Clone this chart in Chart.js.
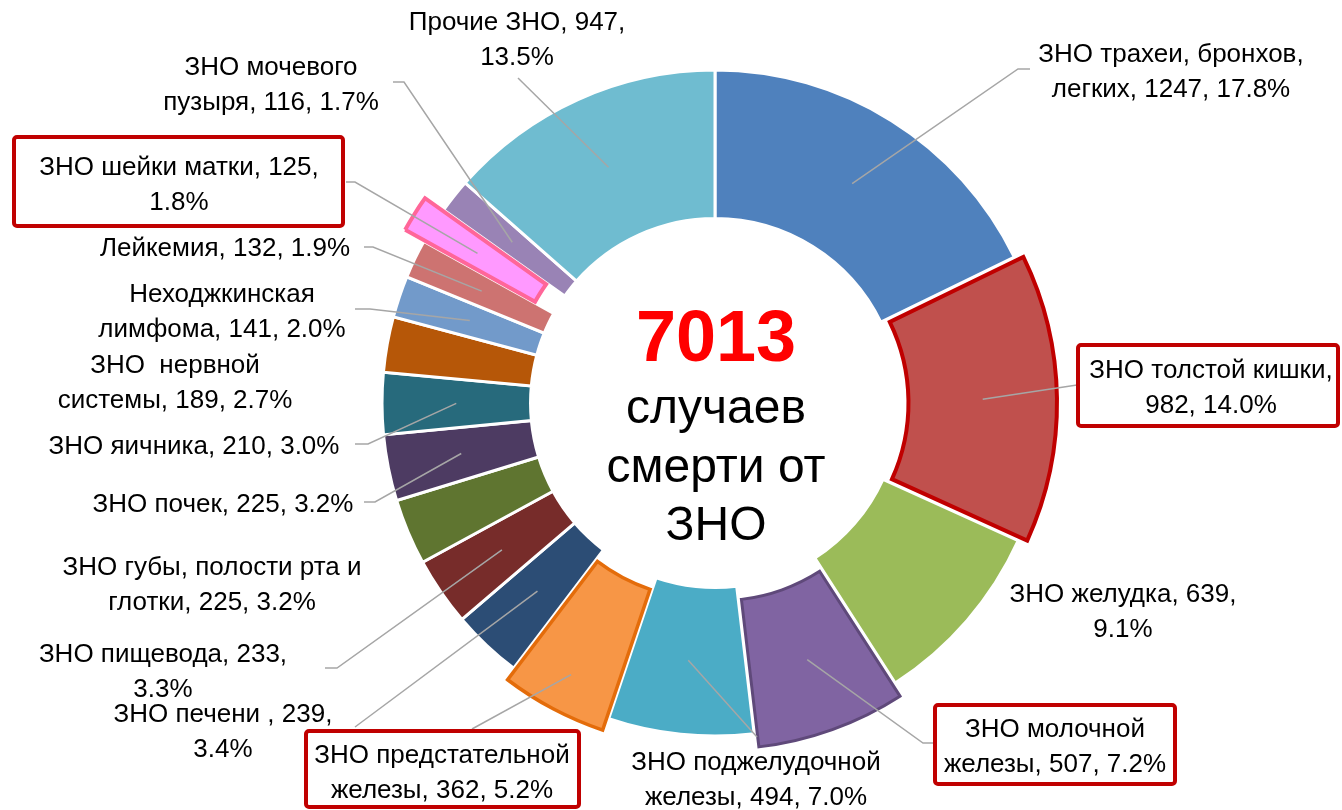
<!DOCTYPE html>
<html>
<head>
<meta charset="utf-8">
<script src="https://cdn.jsdelivr.net/npm/chart.js@4/dist/chart.umd.min.js"></script>
<style>
  html, body { margin: 0; padding: 0; background: #ffffff; }
  #wrap { width: 1342px; height: 810px; position: relative; }
</style>
</head>
<body>
<div id="wrap"><canvas id="c" width="1342" height="810"></canvas></div>
<script>
// ---------------- data ----------------
const categories = [
  'ЗНО трахеи, бронхов, легких',
  'ЗНО толстой кишки',
  'ЗНО желудка',
  'ЗНО молочной железы',
  'ЗНО поджелудочной железы',
  'ЗНО предстательной железы',
  'ЗНО печени ',
  'ЗНО пищевода',
  'ЗНО губы, полости рта и глотки',
  'ЗНО почек',
  'ЗНО яичника',
  'ЗНО  нервной системы',
  'Неходжкинская лимфома',
  'Лейкемия',
  'ЗНО шейки матки',
  'ЗНО мочевого пузыря',
  'Прочие ЗНО'
];
const values = [1247, 982, 639, 507, 494, 362, 239, 233, 225, 225, 210, 189, 141, 132, 125, 116, 947];
const centerLines = ['случаев', 'смерти от', 'ЗНО'];

// ---------------- styles ----------------
const sliceColors = ['#4F81BD', '#C0504D', '#9BBB59', '#8064A2', '#4BACC6', '#F79646', '#2C4D75', '#772C2A',
  '#5F7530', '#4D3B62', '#276A7C', '#B65708', '#729ACA', '#CD7371', '#FF99FF', '#9983B5', '#6FBCD0'];
const outlineColors = ['#FFFFFF', '#C00000', '#FFFFFF', '#5F497A', '#FFFFFF', '#E46C0A', '#FFFFFF', '#FFFFFF',
  '#FFFFFF', '#FFFFFF', '#FFFFFF', '#FFFFFF', '#FFFFFF', '#FFFFFF', '#FF6699', '#FFFFFF', '#FFFFFF'];
const outlineWidths = [3, 4, 3, 3, 3, 3.5, 3, 3, 3, 3, 3, 3, 3, 3, 4, 3, 3];
const explode = [0, 9, 0, 14, 0, 13, 0, 0, 0, 0, 0, 0, 0, 0, 22, 0, 0];

// label layout: center x, first-line baseline, words on first line
const labelX = [1171, 1211, 1123, 1055, 756, 442, 223, 163, 212, 223, 194, 175, 222, 225, 179, 271, 517];
const labelY = [62, 378, 602, 737, 770, 763, 722, 662, 575, 512, 454, 373, 302, 256, 175, 75, 30];
const labelBreak = [3, 3, 3, 2, 2, 2, 4, 3, 5, 99, 99, 3, 1, 99, 4, 2, 3];
const lineGap = 35;
// leader polyline points (from label side), anchor on the slice is added from the arc
const leaderPts = [
  [[1030, 69], [1018, 69]],
  [[1077, 385]],
  null,
  [[935, 743], [923, 743]],
  [[757, 737]],
  [[472, 729]],
  [[355, 727]],
  [[325, 668], [337, 668]],
  null,
  [[364, 502], [375, 502]],
  [[355, 444], [368, 444]],
  null,
  [[355, 309], [370, 309]],
  [[364, 247], [373, 247]],
  [[346, 182], [355, 182]],
  [[393, 82], [404, 82]],
  [[518, 78]]
];
const anchorFrac = [0.5, 0.5, 0.5, 0.5, 0.5, 0.74, 0.5, 0.5, 0.5, 0.5, 0.5, 0.5, 0.5, 0.5, 0.5, 0.5, 0.5];
const labelBoxes = [null, [1076, 343, 264, 85], null, [933, 703, 244, 83], null, [304, 729, 277, 80], null, null,
  null, null, null, null, null, null, [12, 135, 333, 93], null, null];

const total = values.reduce((a, b) => a + b, 0);
const LABEL_FONT = '26px "Liberation Sans", Arial, sans-serif';

function labelLines(i) {
  const pct = (values[i] / total * 100).toFixed(1) + '%';
  const full = categories[i] + ', ' + values[i] + ', ' + pct;
  const words = full.split(' ');
  if (labelBreak[i] >= words.length) return [full];
  return [words.slice(0, labelBreak[i]).join(' '), words.slice(labelBreak[i]).join(' ')];
}

// draw arcs with explode translation (uses library arc elements)
const explodePlugin = {
  id: 'explodeArcs',
  beforeDatasetDraw(chart, args) {
    const ctx = chart.ctx;
    const arcs = args.meta.data;
    const order = arcs.map((a, i) => i).sort((a, b) => (explode[a] > 0) - (explode[b] > 0));
    order.forEach(i => {
      const arc = arcs[i];
      const p = arc.getProps(['startAngle', 'endAngle']);
      const mid = (p.startAngle + p.endAngle) / 2;
      ctx.save();
      ctx.translate(Math.cos(mid) * explode[i], Math.sin(mid) * explode[i]);
      arc.draw(ctx, chart.chartArea);
      ctx.restore();
    });
    return false;
  }
};

const labelPlugin = {
  id: 'labelsAndCenter',
  afterDraw(chart) {
    const ctx = chart.ctx;
    const arcs = chart.getDatasetMeta(0).data;
    ctx.save();
    // leader lines
    ctx.strokeStyle = '#A6A6A6';
    ctx.lineWidth = 1.5;
    arcs.forEach((arc, i) => {
      if (!leaderPts[i]) return;
      const p = arc.getProps(['x', 'y', 'startAngle', 'endAngle', 'innerRadius', 'outerRadius']);
      const mid = (p.startAngle + p.endAngle) / 2;
      const rr = p.innerRadius + (p.outerRadius - p.innerRadius) * anchorFrac[i] + explode[i];
      const ax = p.x + Math.cos(mid) * rr;
      const ay = p.y + Math.sin(mid) * rr;
      ctx.beginPath();
      ctx.moveTo(leaderPts[i][0][0], leaderPts[i][0][1]);
      for (let k = 1; k < leaderPts[i].length; k++) ctx.lineTo(leaderPts[i][k][0], leaderPts[i][k][1]);
      ctx.lineTo(ax, ay);
      ctx.stroke();
    });
    // boxes
    labelBoxes.forEach(b => {
      if (!b) return;
      ctx.beginPath();
      ctx.roundRect(b[0] + 2, b[1] + 2, b[2] - 4, b[3] - 4, 3);
      ctx.fillStyle = '#FFFFFF';
      ctx.fill();
      ctx.lineWidth = 4;
      ctx.strokeStyle = '#C00000';
      ctx.stroke();
    });
    // label texts
    ctx.font = LABEL_FONT;
    ctx.fillStyle = '#000000';
    ctx.textAlign = 'center';
    ctx.textBaseline = 'alphabetic';
    arcs.forEach((arc, i) => {
      labelLines(i).forEach((t, k) => ctx.fillText(t, labelX[i], labelY[i] + k * lineGap));
    });
    // center text
    ctx.fillStyle = '#FF0000';
    ctx.font = 'bold 72px "Liberation Sans", Arial, sans-serif';
    ctx.fillText(String(total), 716, 361);
    ctx.fillStyle = '#000000';
    ctx.font = '48px "Liberation Sans", Arial, sans-serif';
    centerLines.forEach((t, k) => ctx.fillText(t, 716, 423 + k * 58.5));
    ctx.restore();
  }
};

new Chart(document.getElementById('c'), {
  type: 'doughnut',
  data: {
    labels: categories,
    datasets: [{
      data: values,
      backgroundColor: sliceColors,
      borderColor: outlineColors,
      borderWidth: outlineWidths,
      borderJoinStyle: 'miter',
      borderAlign: 'center'
    }]
  },
  options: {
    responsive: false,
    animation: false,
    events: [],
    radius: 333,
    cutout: '55.4%',
    rotation: 0,
    layout: { padding: { left: 88, right: 0, top: 0, bottom: 4 } },
    plugins: { legend: { display: false }, tooltip: { enabled: false } }
  },
  plugins: [explodePlugin, labelPlugin]
});
</script>
</body>
</html>
